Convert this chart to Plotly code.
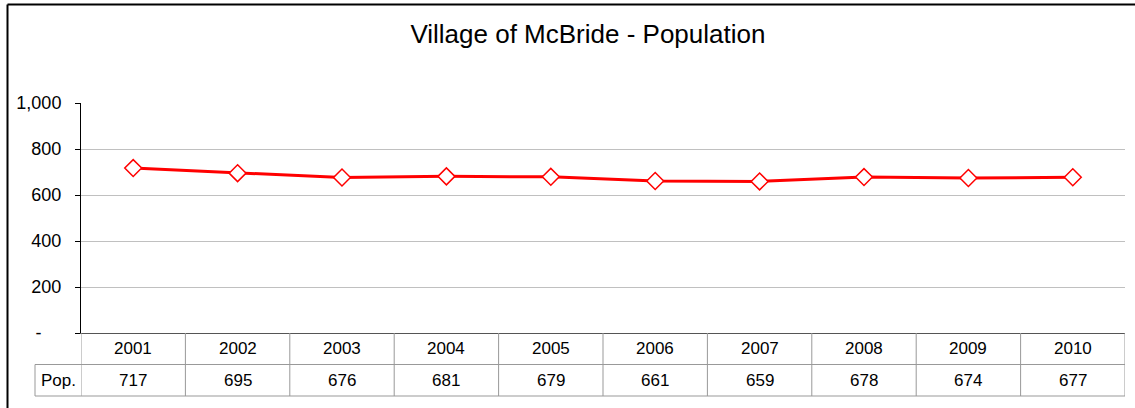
import plotly.graph_objects as go

years = ["2001", "2002", "2003", "2004", "2005", "2006", "2007", "2008", "2009", "2010"]
population = [717, 695, 676, 681, 679, 661, 659, 678, 674, 677]
y_tickvals = [0, 200, 400, 600, 800, 1000]
y_ticktext = ["-\u00a0\u00a0\u00a0\u00a0", "200", "400", "600", "800", "1,000"]
title_text = "Village of McBride - Population"
row_label = "Pop."

W, H = 1135, 408
ML, MR, MT, MB = 81, 10, 103, 75
plot_w = W - ML - MR
plot_h = H - MT - MB
row_h = 31.5 / plot_h
label_w = 46 / plot_w

xpos = [i + 0.5 for i in range(len(years))]
FONT = "Liberation Sans, Arial, sans-serif"

fig = go.Figure()
fig.add_trace(go.Scatter(
    x=xpos, y=population, mode="lines+markers",
    line=dict(color="#ff0000", width=3),
    marker=dict(symbol="diamond", size=13, color="white",
                line=dict(color="#ff0000", width=1.5)),
    showlegend=False, hoverinfo="y",
))

shapes = []
grid_c = "#999999"
for k in [1, 2]:
    shapes.append(dict(type="line", xref="paper", yref="paper",
                       x0=-label_w, x1=1,
                       y0=-k * row_h, y1=-k * row_h,
                       line=dict(color=grid_c, width=1)))
for i in range(len(years) + 1):
    shapes.append(dict(type="line", xref="x", yref="paper",
                       x0=i, x1=i, y0=0, y1=-2 * row_h,
                       line=dict(color=grid_c, width=1)))
shapes.append(dict(type="line", xref="paper", yref="paper",
                   x0=-label_w, x1=-label_w, y0=-row_h, y1=-2 * row_h,
                   line=dict(color=grid_c, width=1)))
fx = (7.5 - ML) / plot_w
fy = (H - MB - 4.5) / plot_h
shapes.append(dict(type="line", xref="paper", yref="paper",
                   x0=fx, x1=1.2, y0=fy, y1=fy, line=dict(color="black", width=2)))
shapes.append(dict(type="line", xref="paper", yref="paper",
                   x0=fx, x1=fx, y0=fy, y1=-1, line=dict(color="black", width=2)))

annotations = []
for xp, yr, pv in zip(xpos, years, population):
    annotations.append(dict(x=xp, y=-0.5 * row_h, xref="x", yref="paper",
                            text=yr, showarrow=False, yanchor="middle", xanchor="center",
                            font=dict(size=17, color="black", family=FONT)))
    annotations.append(dict(x=xp, y=-1.5 * row_h, xref="x", yref="paper",
                            text=str(pv), showarrow=False, yanchor="middle", xanchor="center",
                            font=dict(size=17, color="black", family=FONT)))
annotations.append(dict(x=-label_w / 2, y=-1.5 * row_h, xref="paper", yref="paper",
                        text=row_label, showarrow=False, yanchor="middle", xanchor="center",
                        font=dict(size=17, color="black", family=FONT)))

fig.update_layout(
    width=W, height=H,
    margin=dict(l=ML, r=MR, t=MT, b=MB, pad=0),
    paper_bgcolor="white", plot_bgcolor="white",
    title=dict(text=title_text, x=0.518, xanchor="center",
               y=1 - 34 / H, yanchor="middle", yref="container",
               font=dict(size=26, color="black", family=FONT)),
    xaxis=dict(range=[0, len(years)], showgrid=False, zeroline=False,
               showticklabels=False, ticks="", showline=True,
               linecolor="#555555", linewidth=1, fixedrange=True),
    yaxis=dict(range=[0, 1000], tickvals=y_tickvals, ticktext=y_ticktext,
               showgrid=True, gridcolor="#c0c0c0", gridwidth=1,
               zeroline=False, showline=True, linecolor="black", linewidth=1,
               ticks="outside", ticklen=5, tickcolor="black",
               ticklabelstandoff=10,
               tickfont=dict(size=18, color="black", family=FONT),
               fixedrange=True),
    shapes=shapes, annotations=annotations,
    font=dict(family=FONT),
)

fig.write_html("out.html", config={"displayModeBar": False},
               post_script="document.body.style.margin='0';document.body.style.overflow='hidden';")
